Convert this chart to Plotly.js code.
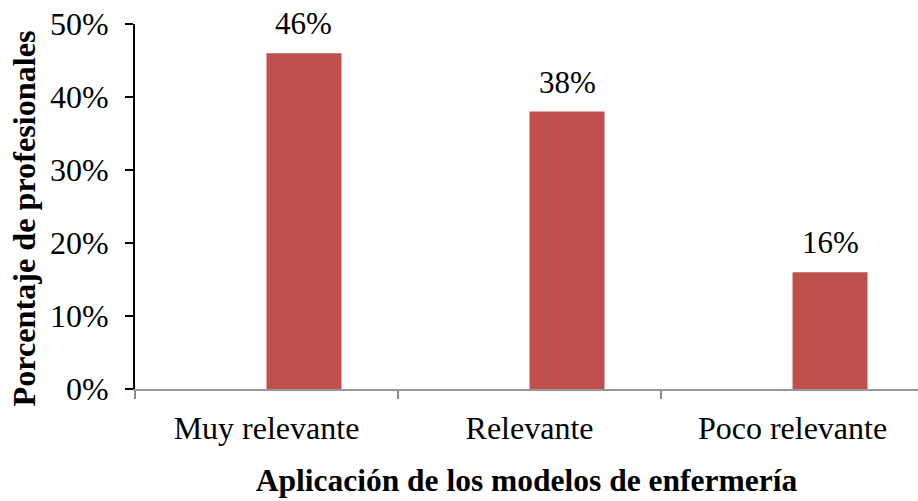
<!DOCTYPE html>
<html>
<head>
<meta charset="utf-8">
<script src="https://cdn.plot.ly/plotly-3.0.1.min.js"></script>
<style>html,body{margin:0;padding:0;background:#fff;}#chart{width:918px;height:501px;}</style>
</head>
<body>
<div id="chart"></div>
<script>
const categories = ["Muy relevante", "Relevante", "Poco relevante"];
const values = [0.46, 0.38, 0.16];
const valueLabels = ["46%", "38%", "16%"];
const yTickValues = [0, 0.1, 0.2, 0.3, 0.4, 0.5];
const yTickLabels = ["0%", "10%", "20%", "30%", "40%", "50%"];
const xTitle = "Aplicación de los modelos de enfermería";
const yTitle = "Porcentaje de profesionales";

const font = "Liberation Serif, Times New Roman, serif";
const barWidth = 0.285;

const annotations = categories.map((c, i) => ({
  x: i + barWidth / 2,
  y: values[i],
  xref: "x", yref: "y",
  text: valueLabels[i],
  showarrow: false,
  yanchor: "bottom",
  yshift: 10,
  font: {family: font, size: 31, color: "#000"}
}));
annotations.push({
  xref: "paper", yref: "paper",
  x: -0.1418, y: 0.467,
  xanchor: "center", yanchor: "middle",
  textangle: -90,
  showarrow: false,
  text: "<b>" + yTitle + "</b>",
  font: {family: font, size: 32.2, color: "#000"}
});

Plotly.newPlot("chart", [{
  type: "bar",
  x: categories,
  y: values,
  offset: 0,
  width: barWidth,
  marker: {color: "#C0504D"},
  hoverinfo: "none"
}], {
  width: 918, height: 501,
  margin: {l: 135, r: 0, t: 24, b: 112},
  paper_bgcolor: "#fff", plot_bgcolor: "#fff",
  showlegend: false,
  font: {family: font, size: 32, color: "#000"},
  annotations: annotations,
  xaxis: {
    type: "category",
    range: [-0.5, 2.477],
    tickson: "boundaries",
    ticks: "outside", ticklen: 8, tickcolor: "#888", tickwidth: 2,
    ticklabelstandoff: 10,
    showline: true, linecolor: "#999", linewidth: 2,
    showgrid: false, zeroline: false,
    tickfont: {family: font, size: 32, color: "#000"},
    title: {text: "<b>" + xTitle + "</b>", font: {family: font, size: 31.5, color: "#000"}, standoff: 24}
  },
  yaxis: {
    range: [0, 0.5],
    tickvals: yTickValues, ticktext: yTickLabels,
    ticks: "outside", ticklen: 8, tickcolor: "#000", tickwidth: 2,
    ticklabelstandoff: 10,
    showline: true, linecolor: "#000", linewidth: 2,
    showgrid: false, zeroline: false,
    tickfont: {family: font, size: 32, color: "#000"}
  }
}, {displayModeBar: false, staticPlot: true});
</script>
</body>
</html>
